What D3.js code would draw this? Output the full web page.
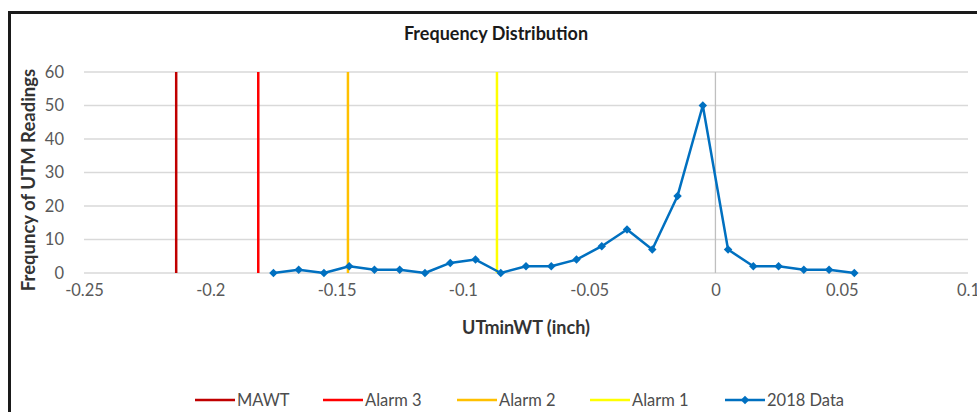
<!DOCTYPE html>
<html><head><meta charset="utf-8">
<script src="https://cdn.jsdelivr.net/npm/d3@7"></script>
<style>
body{margin:0;background:#fff;}
svg{display:block;font-family:Lato,"Open Sans",sans-serif;}
</style></head>
<body><svg id="c" width="977" height="412"></svg>
<script>
const binCenters = [-0.175,-0.165,-0.155,-0.145,-0.135,-0.125,-0.115,-0.105,-0.095,-0.085,-0.075,-0.065,-0.055,-0.045,-0.035,-0.025,-0.015,-0.005,0.005,0.015,0.025,0.035,0.045,0.055];
const counts2018 = [0,1,0,2,1,1,0,3,4,0,2,2,4,8,13,7,23,50,7,2,2,1,1,0];
const limitNames = ["MAWT","Alarm 3","Alarm 2","Alarm 1"];
const limitValues = [-0.2135,-0.181,-0.1455,-0.0865];
const limitColors = ["#C00000","#FF0000","#FFC000","#FFFF00"];
const xTicks = [-0.25,-0.2,-0.15,-0.1,-0.05,0,0.05,0.1];
const yTicks = [0,10,20,30,40,50,60];
const seriesName = "2018 Data";
const seriesColor = "#0070C0";

const svg = d3.select("#c");
// frame
svg.append("path").attr("d","M9.5,412 L9.5,12.5 L977,12.5").attr("fill","none").attr("stroke","#1a1a1a").attr("stroke-width",3);

const x = d3.scaleLinear().domain([-0.25,0.1]).range([84,968]);
const y = d3.scaleLinear().domain([0,60]).range([273,72]);

// gridlines
svg.append("g").selectAll("line").data(yTicks).join("line")
  .attr("x1",x(-0.25)).attr("x2",x(0.1)).attr("y1",d=>y(d)).attr("y2",d=>y(d))
  .attr("stroke","#d9d9d9").attr("stroke-width",1.3);
// vertical axis at x=0
svg.append("line").attr("x1",x(0)).attr("x2",x(0)).attr("y1",y(60)).attr("y2",y(0))
  .attr("stroke","#bfbfbf").attr("stroke-width",1.3);

// y tick labels
const yAxis = d3.axisLeft(y).tickValues(yTicks).tickSize(0).tickPadding(0).tickFormat(d3.format("d"));
const gy = svg.append("g").attr("transform","translate(64,0)").call(yAxis);
gy.select(".domain").remove();
gy.selectAll("text").attr("font-size",16.5).attr("fill","#595959").attr("font-family","Lato,sans-serif");

// x tick labels
const xAxis = d3.axisBottom(x).tickValues(xTicks).tickSize(0).tickPadding(0).tickFormat(d=>d===0?"0":String(d));
const gx = svg.append("g").attr("transform","translate(0,284)").call(xAxis);
gx.select(".domain").remove();
gx.selectAll("text").attr("font-size",16.5).attr("fill","#595959").attr("font-family","Lato,sans-serif");

// limit lines
svg.append("g").selectAll("line").data(limitValues).join("line")
  .attr("x1",d=>x(d)).attr("x2",d=>x(d)).attr("y1",y(60)).attr("y2",y(0))
  .attr("stroke",(d,i)=>limitColors[i]).attr("stroke-width",2.5);

// data line
const pts = binCenters.map((b,i)=>[b,counts2018[i]]);
svg.append("path").datum(pts)
  .attr("d",d3.line().x(d=>x(d[0])).y(d=>y(d[1])))
  .attr("fill","none").attr("stroke",seriesColor).attr("stroke-width",2.5).attr("stroke-linejoin","round");
const diamond = d3.symbol().type(d3.symbolSquare).size(36);
svg.append("g").selectAll("path").data(pts).join("path")
  .attr("d",diamond).attr("transform",d=>`translate(${x(d[0])},${y(d[1])}) rotate(45)`)
  .attr("fill",seriesColor);

// titles
svg.append("text").attr("x",496).attr("y",40).attr("text-anchor","middle")
  .attr("font-size",18).attr("font-weight","bold").attr("fill","#1a1a1a").attr("font-family","Lato,sans-serif")
  .text("Frequency Distribution");
svg.append("text").attr("transform","translate(35,180) rotate(-90)").attr("text-anchor","middle")
  .attr("font-size",18.5).attr("font-weight","bold").attr("fill","#333").attr("font-family","Lato,sans-serif")
  .text("Frequncy of UTM Readings");
svg.append("text").attr("x",526).attr("y",334).attr("text-anchor","middle")
  .attr("font-size",18).attr("font-weight","bold").attr("fill","#333").attr("font-family","Lato,sans-serif")
  .text("UTminWT (inch)");

// legend
const legendItems = limitNames.map((n,i)=>({name:n,color:limitColors[i],marker:false}))
  .concat([{name:seriesName,color:seriesColor,marker:true}]);
const legendX = [195,323,457,590,725];
const lg = svg.append("g").selectAll("g").data(legendItems).join("g")
  .attr("transform",(d,i)=>`translate(${legendX[i]},400)`);
lg.append("line").attr("x1",0).attr("x2",40).attr("y1",0).attr("y2",0)
  .attr("stroke",d=>d.color).attr("stroke-width",2.5);
lg.filter(d=>d.marker).append("path").attr("d",diamond).attr("transform","translate(20,0) rotate(45)").attr("fill",d=>d.color);
lg.append("text").attr("x",42).attr("y",6).attr("font-size",16.5).attr("fill","#4d4d4d")
  .attr("font-family","Lato,sans-serif").text(d=>d.name);
</script></body></html>
